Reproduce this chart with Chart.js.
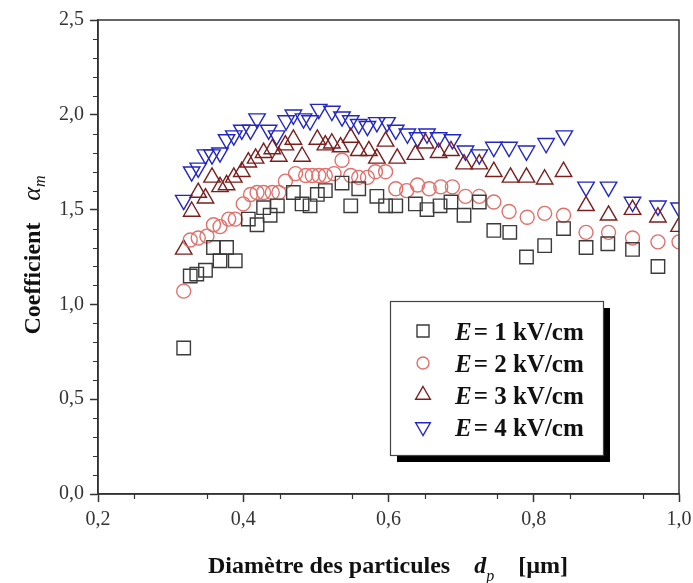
<!DOCTYPE html>
<html>
<head>
<meta charset="utf-8">
<script src="https://cdn.jsdelivr.net/npm/chart.js@4.4.1/dist/chart.umd.min.js"></script>
<style>
  html, body { margin: 0; padding: 0; background: #fff; }
  #wrap { width: 693px; height: 583px; }
</style>
</head>
<body>
<div id="wrap"><canvas id="chart" width="693" height="583"></canvas></div>
<script>
// particle diameter (µm) and coefficient alpha_m
const dp1 = [0.318,0.327,0.336,0.348,0.359,0.368,0.377,0.389,0.407,0.419,0.428,0.437,0.447,0.469,0.481,0.492,0.502,0.513,0.536,0.548,0.559,0.584,0.596,0.610,0.637,0.653,0.671,0.686,0.704,0.725,0.745,0.767,0.790,0.815,0.841,0.872,0.902,0.936,0.971];
const a1  = [0.77,1.15,1.16,1.18,1.30,1.23,1.30,1.23,1.45,1.42,1.51,1.47,1.52,1.59,1.53,1.52,1.58,1.60,1.64,1.52,1.61,1.57,1.52,1.52,1.53,1.50,1.52,1.54,1.47,1.54,1.39,1.38,1.25,1.31,1.40,1.30,1.32,1.29,1.20];

const dp2 = [0.318,0.327,0.338,0.350,0.359,0.368,0.380,0.389,0.400,0.410,0.419,0.428,0.440,0.449,0.458,0.472,0.486,0.495,0.504,0.513,0.525,0.536,0.548,0.559,0.571,0.582,0.596,0.610,0.625,0.640,0.656,0.672,0.688,0.706,0.725,0.745,0.766,0.791,0.815,0.841,0.872,0.903,0.936,0.971,1.0];
const a2  = [1.07,1.34,1.35,1.36,1.42,1.41,1.45,1.45,1.53,1.58,1.59,1.59,1.59,1.59,1.65,1.69,1.68,1.68,1.68,1.68,1.69,1.76,1.68,1.67,1.67,1.70,1.70,1.61,1.60,1.63,1.61,1.62,1.62,1.57,1.57,1.54,1.49,1.46,1.48,1.47,1.38,1.38,1.35,1.33,1.33];

const dp3 = [0.318,0.329,0.338,0.348,0.357,0.368,0.377,0.387,0.398,0.407,0.417,0.428,0.440,0.449,0.458,0.469,0.481,0.502,0.513,0.522,0.534,0.548,0.559,0.573,0.584,0.596,0.612,0.637,0.651,0.669,0.686,0.704,0.725,0.745,0.768,0.790,0.815,0.841,0.872,0.903,0.936,0.971,1.0];
const a3  = [1.29,1.49,1.59,1.56,1.67,1.62,1.63,1.67,1.70,1.75,1.77,1.80,1.82,1.78,1.84,1.87,1.78,1.87,1.84,1.85,1.83,1.88,1.81,1.81,1.77,1.86,1.77,1.79,1.85,1.80,1.81,1.74,1.74,1.70,1.67,1.67,1.66,1.70,1.52,1.47,1.50,1.46,1.41];

const dp4 = [0.318,0.329,0.338,0.348,0.357,0.368,0.377,0.387,0.398,0.410,0.419,0.435,0.446,0.459,0.469,0.483,0.492,0.504,0.522,0.536,0.548,0.559,0.571,0.584,0.598,0.610,0.626,0.640,0.653,0.669,0.688,0.706,0.725,0.745,0.766,0.790,0.817,0.842,0.872,0.903,0.936,0.971,1.0];
const a4  = [1.55,1.70,1.72,1.79,1.79,1.80,1.87,1.89,1.92,1.92,1.98,1.92,1.89,1.97,2.00,1.98,1.97,2.03,2.02,1.99,1.97,1.95,1.94,1.96,1.96,1.92,1.90,1.88,1.90,1.88,1.87,1.81,1.79,1.83,1.83,1.81,1.85,1.89,1.62,1.62,1.54,1.52,1.51];

const fieldLabels = ['1 kV/cm', '2 kV/cm', '3 kV/cm', '4 kV/cm'];
const xTickLabels = ['0,2', '0,4', '0,6', '0,8', '1,0'];
const yTickLabels = ['0,0', '0,5', '1,0', '1,5', '2,0', '2,5'];

const serif = '"Liberation Serif", "DejaVu Serif", serif';

function pts(xs, ys) {
    return xs.map((x, i) => ({ x: x, y: ys[i] }));
}

function series(label, xs, ys, color, style, radius, rotation) {
    return {
        label: label,
        data: pts(xs, ys),
        showLine: false,
        pointStyle: style,
        pointRadius: radius,
        pointRotation: rotation || 0,
        pointBorderWidth: 1.4,
        pointBorderColor: color,
        pointBackgroundColor: 'rgba(0,0,0,0)',
        borderColor: color,
        backgroundColor: 'rgba(0,0,0,0)',
        clip: 0
    };
}

// frame, minor ticks, axis titles and the boxed legend
const decorations = {
    id: 'decorations',
    afterDraw(chart) {
        const ctx = chart.ctx;
        const area = chart.chartArea;
        const xs = chart.scales.x, ys = chart.scales.y;
        ctx.save();
        ctx.strokeStyle = '#333';
        ctx.lineWidth = 1.5;
        ctx.strokeRect(area.left, area.top, area.right - area.left, area.bottom - area.top);

        // minor ticks
        ctx.lineWidth = 1.2;
        ctx.beginPath();
        for (let v = 0.25; v < 1.0; v += 0.1) {
            const px = Math.round(xs.getPixelForValue(v)) + 0.5;
            ctx.moveTo(px, area.bottom);
            ctx.lineTo(px, area.bottom + 5);
        }
        for (let v = 0.1; v < 2.5; v += 0.1) {
            if (Math.abs(v * 2 - Math.round(v * 2)) < 1e-6) continue;
            const py = Math.round(ys.getPixelForValue(v)) + 0.5;
            ctx.moveTo(area.left, py);
            ctx.lineTo(area.left - 5, py);
        }
        ctx.stroke();

        // y title
        ctx.fillStyle = '#111';
        ctx.textBaseline = 'alphabetic';
        ctx.save();
        ctx.translate(40, 255);
        ctx.rotate(-Math.PI / 2);
        ctx.font = 'bold 24px ' + serif;
        const t1 = 'Coefficient';
        const w1 = ctx.measureText(t1).width;
        ctx.font = 'italic 26px ' + serif;
        const wa = ctx.measureText('α').width;
        ctx.font = 'italic 16px ' + serif;
        const wm = ctx.measureText('m').width;
        const gap = 22;
        let x0 = -(w1 + gap + wa + wm) / 2;
        ctx.font = 'bold 24px ' + serif;
        ctx.fillText(t1, x0, 0);
        x0 += w1 + gap;
        ctx.font = 'italic 26px ' + serif;
        ctx.fillText('α', x0, 0);
        ctx.font = 'italic 16px ' + serif;
        ctx.fillText('m', x0 + wa, 5);
        ctx.restore();

        // x title
        ctx.font = 'bold 24px ' + serif;
        const s1 = 'Diamètre des particules';
        const sw1 = ctx.measureText(s1).width;
        let xx = 208;
        const by = 573;
        ctx.fillText(s1, xx, by);
        xx += sw1 + 24;
        ctx.font = 'bold italic 24px ' + serif;
        ctx.fillText('d', xx, by);
        xx += ctx.measureText('d').width;
        ctx.font = 'italic 16px ' + serif;
        ctx.fillText('p', xx, by + 8);
        xx += 32;
        ctx.font = 'bold 24px ' + serif;
        ctx.fillText('[µm]', xx, by);

        // legend with drop shadow
        const lx = 390, ly = 301, lw = 213, lh = 154;
        ctx.fillStyle = '#000';
        ctx.fillRect(lx + 7, ly + 7, lw, lh);
        ctx.fillStyle = '#fff';
        ctx.fillRect(lx, ly, lw, lh);
        ctx.strokeStyle = '#444';
        ctx.lineWidth = 1.2;
        ctx.strokeRect(lx + 0.5, ly + 0.5, lw, lh);
        const rows = [331, 363, 395, 427];
        chart.data.datasets.forEach((ds, i) => {
            const y = rows[i];
            ctx.strokeStyle = ds.pointBorderColor;
            ctx.fillStyle = 'rgba(0,0,0,0)';
            ctx.lineWidth = 1.4;
            Chart.helpers.drawPoint(ctx, {
                pointStyle: ds.pointStyle,
                rotation: ds.pointRotation,
                radius: ds.pointRadius - 1,
                borderWidth: 1.4
            }, 423, y);
            ctx.fillStyle = '#111';
            let tx = 455;
            const base = y + 9;
            ctx.font = 'bold italic 25px ' + serif;
            ctx.fillText('E', tx, base);
            tx += ctx.measureText('E').width + 2;
            ctx.font = 'bold 25px ' + serif;
            ctx.fillText('= ' + ds.label, tx, base);
        });
        ctx.restore();
    }
};

const config = {
    type: 'scatter',
    data: {
        datasets: [
            series(fieldLabels[0], dp1, a1, '#3b3b3b', 'rect', 9.5),
            series(fieldLabels[1], dp2, a2, '#e0706c', 'circle', 7),
            series(fieldLabels[2], dp3, a3, '#7a1e1e', 'triangle', 9.5),
            series(fieldLabels[3], dp4, a4, '#2326c4', 'triangle', 9.5, 180)
        ]
    },
    options: {
        responsive: false,
        animation: false,
        layout: { padding: { left: 0, top: 20, right: 0, bottom: 0 } },
        plugins: {
            legend: { display: false },
            tooltip: { enabled: false }
        },
        scales: {
            x: {
                type: 'linear',
                min: 0.2,
                max: 1.0,
                afterFit: (s) => { s.height = 89; s.paddingRight = 14; s.paddingLeft = 0; },
                border: { color: '#333', width: 1.5 },
                grid: { drawOnChartArea: false, tickLength: 8, color: '#333', tickWidth: 1.5 },
                ticks: {
                    stepSize: 0.2,
                    padding: 6,
                    color: '#333',
                    font: { family: serif, size: 20 },
                    callback: (v, i) => xTickLabels[i]
                }
            },
            y: {
                type: 'linear',
                min: 0,
                max: 2.5,
                afterFit: (s) => { s.width = 98; },
                border: { color: '#333', width: 1.5 },
                grid: { drawOnChartArea: false, tickLength: 8, color: '#333', tickWidth: 1.5 },
                ticks: {
                    stepSize: 0.5,
                    padding: 6,
                    color: '#333',
                    font: { family: serif, size: 20 },
                    callback: (v, i) => yTickLabels[i]
                }
            }
        }
    },
    plugins: [decorations]
};

const ctx = document.getElementById('chart').getContext('2d');
new Chart(ctx, config);
</script>
</body>
</html>
